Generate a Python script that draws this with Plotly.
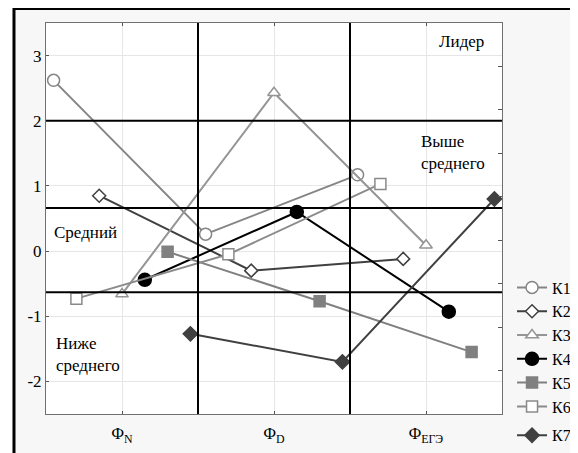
import plotly.graph_objects as go
import numpy as np

# categories (x positions 0, 1, 2)
categories = ["Φ<sub>N</sub>", "Φ<sub>D</sub>", "Φ<sub>ЕГЭ</sub>"]

# values per series
k1 = [2.62, 0.26, 1.17]
k2 = [0.85, -0.30, -0.12]
k3 = [-0.66, 2.43, 0.09]
k4 = [-0.44, 0.60, -0.93]
k5 = [-0.01, -0.77, -1.55]
k6 = [-0.73, -0.05, 1.03]
k7 = [-1.27, -1.70, 0.80]

# zone borders
upper_border = 2
mid_upper = 0.66
mid_lower = -0.63

FONT = "Liberation Serif, Times New Roman, DejaVu Serif, Noto Serif, serif"

series = [
    # name, values, offset, symbol, line colour, fill, size, group
    ("К1", k1, -0.45, "circle", "#858585", "white", 12, "a"),
    ("К2", k2, -0.15, "diamond", "#404040", "white", 10, "a"),
    ("К3", k3, 0.0, "triangle-up", "#959595", "white", 11, "a"),
    ("К4", k4, 0.15, "circle", "black", "black", 13, "a"),
    ("К5", k5, 0.30, "square", "#808080", "#808080", 11, "a"),
    ("К6", k6, -0.30, "square", "#8a8a8a", "white", 11, "a"),
    ("К7", k7, 0.45, "diamond", "#404040", "#404040", 11, "b"),
]

fig = go.Figure()
base = np.arange(len(categories))
for name, vals, off, sym, col, fill, size, grp in series:
    fig.add_scatter(x=base + off, y=vals, name=name, mode="lines+markers",
                    legendgroup=grp,
                    line=dict(color=col, width=2),
                    marker=dict(symbol=sym, size=size, color=fill,
                                line=dict(color=col, width=1.5)))

# dummy trace for the right-side tick axis
fig.add_scatter(x=[], y=[], yaxis="y2", showlegend=False)

for xv in [0.5, 1.5]:
    fig.add_shape(type="line", x0=xv, x1=xv, y0=0, y1=1, xref="x", yref="paper",
                  line=dict(color="black", width=2))
for yv in [upper_border, mid_upper, mid_lower]:
    fig.add_shape(type="line", x0=0, x1=1, y0=yv, y1=yv, xref="paper", yref="y",
                  line=dict(color="black", width=2))

# white left of the frame, frame itself
fig.add_shape(type="rect", xref="paper", yref="paper", x0=-0.3, x1=-0.07, y0=-0.2, y1=1.2,
              fillcolor="white", line_width=0, layer="below")
fig.add_shape(type="rect", xref="paper", yref="paper", x0=-0.0702, x1=1.3, y0=-0.3, y1=1.037,
              line=dict(color="black", width=3))

annot = dict(font=dict(family=FONT, size=17, color="black"), showarrow=False)
fig.add_annotation(x=2.395, y=3.215, text="Лидер", xanchor="right", **annot)
fig.add_annotation(x=1.954, y=1.52, text="Выше<br>среднего", xanchor="left", align="left", **annot)
fig.add_annotation(x=-0.46, y=0.28, text="Средний", xanchor="left", **annot)
fig.add_annotation(x=-0.447, y=-1.59, text="Ниже<br>среднего", xanchor="left", align="left", **annot)

fig.update_layout(
    width=570, height=445,
    margin=dict(l=38, r=76, t=15, b=39, autoexpand=False),
    paper_bgcolor="#f7f7f7", plot_bgcolor="white",
    font=dict(family=FONT, size=17, color="black"),
    showlegend=True,
    legend=dict(x=1.022, y=0.367, xanchor="left", yanchor="top",
                bgcolor="rgba(0,0,0,0)", traceorder="grouped", tracegroupgap=5,
                font=dict(family=FONT, size=16), itemwidth=30),
    xaxis=dict(range=[-0.5, 2.5], tickvals=list(base), ticktext=categories,
               showgrid=True, gridcolor="#e6e6e6", zeroline=False,
               ticks="inside", ticklen=3, tickcolor="#555", mirror="ticks",
               ticklabelstandoff=4,
               showline=True, linecolor="#707070", linewidth=1, automargin=False),
    yaxis=dict(range=[-2.5, 3.5], tickvals=[-2, -1, 0, 1, 2, 3],
               ticktext=["-2", "-1", "0", "1", "2", "3"],
               showgrid=True, gridcolor="#e6e6e6", zeroline=False,
               ticks="inside", ticklen=3, tickcolor="#555", automargin=False,
               showline=True, linecolor="#707070", linewidth=1, mirror=True),
    yaxis2=dict(range=[0, 9], dtick=1, overlaying="y", side="right",
                showgrid=False, zeroline=False, showticklabels=False,
                ticks="inside", ticklen=4, tickcolor="#555", showline=False),
)

fig.write_html("out.html")
